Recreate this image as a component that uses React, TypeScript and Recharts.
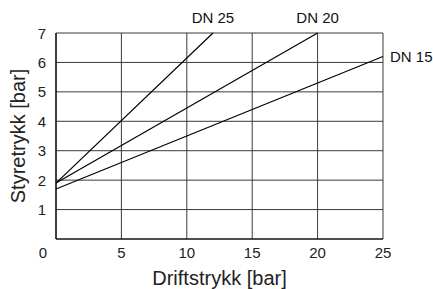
import { LineChart, Line, XAxis, YAxis, CartesianGrid } from 'recharts'

const xTicks = [0, 5, 10, 15, 20, 25]
const yTicks = [0, 1, 2, 3, 4, 5, 6, 7]

const dn25 = [
  { x: 0, y: 1.9 },
  { x: 12, y: 7 },
]
const dn20 = [
  { x: 0, y: 1.9 },
  { x: 20, y: 7 },
]
const dn15 = [
  { x: 0, y: 1.7 },
  { x: 25, y: 6.2 },
]

const FONT = '"Liberation Sans", Arial, Helvetica, sans-serif'

function XTick({ x, y, payload }: any) {
  // the origin "0" sits left of the corner, shared by both axes
  const dx = payload.value === 0 ? -13 : 0
  return (
    <text x={x + dx} y={y + 11} textAnchor="middle" fontSize={15} fill="#222" fontFamily={FONT}>
      {payload.value}
    </text>
  )
}

function YTick({ x, y, payload }: any) {
  if (payload.value === 0) return null
  return (
    <text x={x - 2} y={y + 5.5} textAnchor="end" fontSize={15} fill="#222" fontFamily={FONT}>
      {payload.value}
    </text>
  )
}

const XTitle = ({ viewBox }: any) => (
  <text x={viewBox.x + viewBox.width / 2} y={viewBox.y + 46} textAnchor="middle" fontSize={20} fill="#222" fontFamily={FONT}>
    Driftstrykk [bar]
  </text>
)

const YTitle = ({ viewBox }: any) => {
  const cx = 25
  const cy = viewBox.y + viewBox.height / 2
  return (
    <text x={cx} y={cy} transform={`rotate(-90, ${cx}, ${cy})`} textAnchor="middle" fontSize={20} fill="#222" fontFamily={FONT}>
      Styretrykk [bar]
    </text>
  )
}

const endLabel = (text: string, count: number, place: 'top' | 'right') => (props: any) => {
  const { x, y, index } = props
  if (index !== count - 1) return null
  if (place === 'top') {
    return (
      <text key={text} x={x} y={y - 10} textAnchor="middle" fontSize={15} fill="#111" fontFamily={FONT}>
        {text}
      </text>
    )
  }
  return (
    <text key={text} x={x + 7} y={y + 5.5} textAnchor="start" fontSize={15} fill="#111" fontFamily={FONT}>
      {text}
    </text>
  )
}

export default function App() {
  return (
    <div style={{ position: 'absolute', left: 0, top: 0, background: '#fff' }}>
      <LineChart
        width={433}
        height={289}
        margin={{ top: 33, right: 50, bottom: 0, left: 0 }}
        style={{ fontFamily: FONT }}
      >
        <CartesianGrid stroke="#3a3a3a" strokeWidth={1} />
        <XAxis
          type="number"
          dataKey="x"
          domain={[0, 25]}
          ticks={xTicks}
          height={50}
          tickLine={false}
          axisLine={{ stroke: '#000', strokeWidth: 1.2 }}
          tick={<XTick />}
          label={{ content: <XTitle /> }}
        />
        <YAxis
          type="number"
          dataKey="y"
          domain={[0, 7]}
          ticks={yTicks}
          width={56}
          tickLine={false}
          axisLine={{ stroke: '#000', strokeWidth: 1.2 }}
          tick={<YTick />}
          label={{ content: <YTitle /> }}
        />
        <Line data={dn25} dataKey="y" stroke="#000" strokeWidth={1.2} dot={false} isAnimationActive={false} label={endLabel('DN 25', dn25.length, 'top')} />
        <Line data={dn20} dataKey="y" stroke="#000" strokeWidth={1.2} dot={false} isAnimationActive={false} label={endLabel('DN 20', dn20.length, 'top')} />
        <Line data={dn15} dataKey="y" stroke="#000" strokeWidth={1.2} dot={false} isAnimationActive={false} label={endLabel('DN 15', dn15.length, 'right')} />
      </LineChart>
    </div>
  )
}
